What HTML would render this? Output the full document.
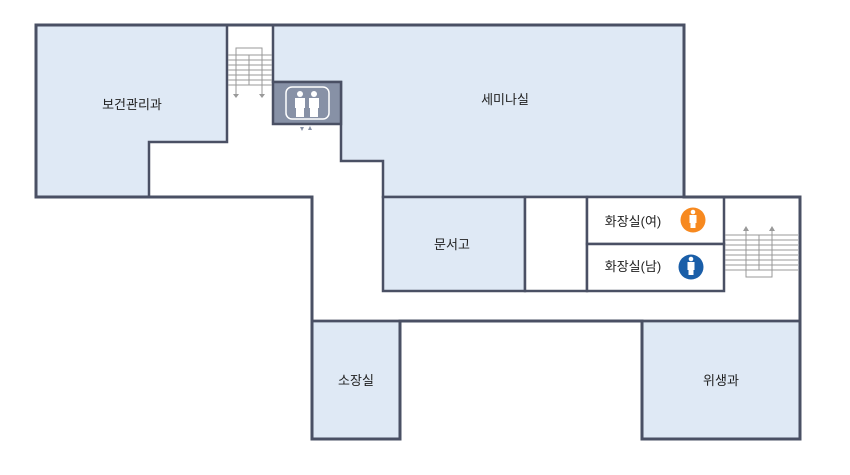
<!DOCTYPE html>
<html><head><meta charset="utf-8"><style>
html,body{margin:0;padding:0;background:#fff;width:850px;height:475px;overflow:hidden}
text{font-family:"Liberation Sans","Noto Sans CJK KR",sans-serif;font-size:13px;fill:#222}
</style></head><body>
<svg width="850" height="475" viewBox="0 0 850 475" xmlns="http://www.w3.org/2000/svg">
<g fill="#dfe9f5" stroke="#4a5064" stroke-width="2.5">
<polygon points="36,25 227,25 227,142 149,142 149,197 36,197"/>
<polygon points="273,25 684,25 684,197 383,197 383,161 341,161 341,82 273,82"/>
<rect x="383" y="197" width="142" height="94"/>
<rect x="312" y="321" width="88" height="118"/>
<rect x="642" y="321" width="158" height="118"/>
</g>
<rect x="273" y="82" width="68" height="42" fill="#8791a6" stroke="#4a5064" stroke-width="2.5"/>
<g fill="#fff" stroke="#4a5064" stroke-width="2.5">
<rect x="525" y="197" width="62" height="94"/>
<rect x="587" y="197" width="137" height="47"/>
<rect x="587" y="244" width="137" height="47"/>
</g>
<line x1="312" y1="321" x2="800" y2="321" stroke="#4a5064" stroke-width="2.5"/>
<polygon points="36,25 684,25 684,197 800,197 800,439 642,439 642,321 400,321 400,439 312,439 312,197 36,197" fill="none" stroke="#4a5064" stroke-width="3"/>
<!-- left stairs -->
<g stroke="#999" stroke-width="1" fill="none">
<line x1="228" y1="55" x2="272" y2="55"/><line x1="228" y1="60" x2="272" y2="60"/><line x1="228" y1="65" x2="272" y2="65"/><line x1="228" y1="70" x2="272" y2="70"/><line x1="228" y1="75" x2="272" y2="75"/><line x1="228" y1="80" x2="272" y2="80"/><line x1="228" y1="85" x2="272" y2="85"/>
<polyline points="236,94 236,48 262,48 262,94"/><line x1="249" y1="55" x2="249" y2="85"/>
</g>
<polygon points="233,94 239,94 236,98" fill="#999"/><polygon points="259,94 265,94 262,98" fill="#999"/>
<!-- elevator icon -->
<rect x="286" y="87" width="43" height="32" rx="6" fill="none" stroke="#fff" stroke-width="1.5"/>
<g fill="#fff"><circle cx="300" cy="94" r="3"/><rect x="295" y="98" width="10" height="10"/><rect x="296" y="107" width="8" height="10"/>
<circle cx="314" cy="94" r="3"/><rect x="309" y="98" width="10" height="10"/><rect x="310" y="107" width="8" height="10"/></g>
<polygon points="300,127 304,127 302,131" fill="#8791a6"/><polygon points="308,130 312,130 310,126" fill="#8791a6"/>
<!-- right stairs -->
<g stroke="#999" stroke-width="1" fill="none">
<line x1="725" y1="235" x2="798" y2="235"/><line x1="725" y1="240" x2="798" y2="240"/><line x1="725" y1="245" x2="798" y2="245"/><line x1="725" y1="250" x2="798" y2="250"/><line x1="725" y1="255" x2="798" y2="255"/><line x1="725" y1="260" x2="798" y2="260"/><line x1="725" y1="265" x2="798" y2="265"/><line x1="725" y1="270" x2="798" y2="270"/>
<polyline points="746,230 746,277 772,277 772,230"/><line x1="759" y1="235" x2="759" y2="270"/>
</g>
<polygon points="743,231 749,231 746,226" fill="#999"/><polygon points="769,231 775,231 772,226" fill="#999"/>
<!-- toilet icons -->
<circle cx="693" cy="220" r="12.5" fill="#f7891f"/>
<circle cx="691" cy="267" r="12.5" fill="#1a5ea8"/>
<g fill="#fff"><circle cx="693" cy="212" r="2.3"/><rect x="689.5" y="215" width="7" height="8"/><rect x="690.5" y="222" width="5" height="6"/>
<circle cx="691" cy="259" r="2.3"/><rect x="687.5" y="262" width="7" height="8"/><rect x="688.5" y="269" width="5" height="6"/></g>
<text x="132" y="109" text-anchor="middle">보건관리과</text>
<text x="505" y="104" text-anchor="middle">세미나실</text>
<text x="452" y="249" text-anchor="middle">문서고</text>
<text x="633" y="226" text-anchor="middle">화장실(여)</text>
<text x="633" y="271" text-anchor="middle">화장실(남)</text>
<text x="356" y="385" text-anchor="middle">소장실</text>
<text x="721" y="385" text-anchor="middle">위생과</text>
</svg>
</body></html>
